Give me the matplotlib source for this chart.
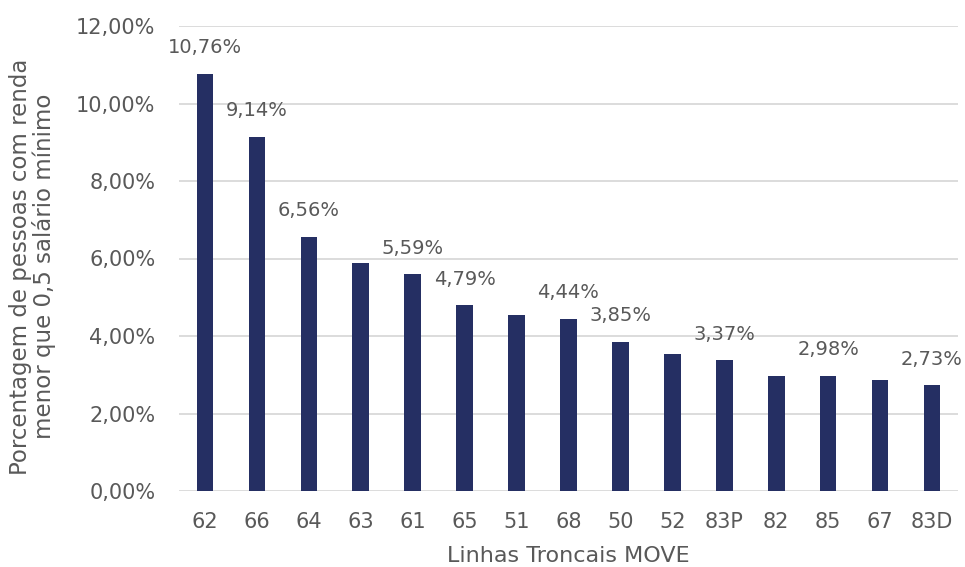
import matplotlib.pyplot as plt
import numpy as np

# --- données ---
linhas = ["62", "66", "64", "63", "61", "65", "51", "68", "50", "52", "83P", "82", "85", "67", "83D"]
valores = [10.76, 9.14, 6.56, 5.88, 5.59, 4.79, 4.54, 4.44, 3.85, 3.53, 3.37, 2.98, 2.98, 2.87, 2.73]
# seules certaines barres portent une étiquette
rotulos = [True, True, True, False, True, True, False, True, True, False, True, False, True, False, True]

cor_barra = "#252f63"
cor_texto = "#595959"

fig = plt.figure(figsize=(9.65, 5.67), dpi=100)
ax = fig.add_axes([179 / 965, 1 - 491 / 567, 779 / 965, 465 / 567])

x = np.arange(len(linhas))
ax.bar(x, valores, width=0.32, color=cor_barra, zorder=3)

for xi, v, mostra in zip(x, valores, rotulos):
    if mostra:
        ax.annotate(f"{v:.2f}%".replace(".", ","), (xi, v), xytext=(0, 12),
                    textcoords="offset points", ha="center", va="bottom",
                    fontsize=14, color=cor_texto)

ax.set_xlim(-0.5, len(linhas) - 0.5)
ax.set_ylim(0, 12)
ax.set_yticks(np.arange(0, 12.1, 2))
ax.set_yticklabels([f"{t:.2f}%".replace(".", ",") for t in np.arange(0, 12.1, 2)])
ax.set_xticks(x)
ax.set_xticklabels(linhas)

ax.grid(axis="y", color="#d9d9d9", linewidth=1.3, zorder=0)
for s in ax.spines.values():
    s.set_visible(False)
ax.tick_params(axis="both", length=0, labelsize=15, labelcolor=cor_texto)
ax.tick_params(axis="y", pad=17)
ax.tick_params(axis="x", pad=15)

ax.set_xlabel("Linhas Troncais MOVE", fontsize=16, color=cor_texto, labelpad=10)
ax.set_ylabel("Porcentagem de pessoas com renda\nmenor que 0,5 salário mínimo",
              fontsize=16.5, color=cor_texto, linespacing=1.0)
ax.yaxis.set_label_coords(-0.158, 0.483)

fig.savefig("out.png", dpi=100)
